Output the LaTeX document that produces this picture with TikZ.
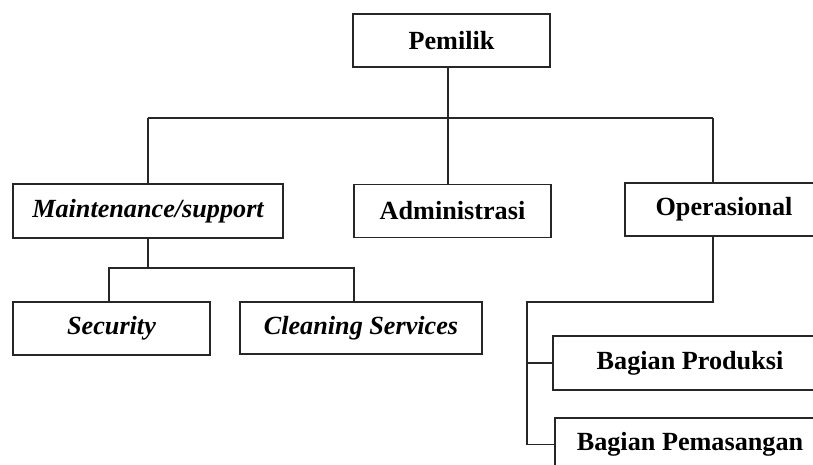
\documentclass[tikz,border=0pt]{standalone}
\usepackage{fontspec}
\setmainfont{Liberation Serif}
\begin{document}
\begin{tikzpicture}[x=1pt,y=-1pt,
  box/.style={draw=black!85, line width=1.8pt, inner sep=0pt, font=\fontsize{26.2}{30}\selectfont\bfseries},
  it/.style={font=\fontsize{26.2}{30}\selectfont\bfseries\itshape},
  conn/.style={draw=black!85, line width=1.8pt}]
\useasboundingbox (0,0) rectangle (813,465);
\clip (0,0) rectangle (813,465);
\fill[white] (0,0) rectangle (813,465);
\node[box, minimum width=197pt, minimum height=53pt] (pem) at (451.5,40.5) {Pemilik};
\node[box, it, minimum width=270pt, minimum height=54pt] (maint) at (148,211) {Maintenance/support};
\node[box, minimum width=197pt, minimum height=53pt] (adm) at (452.5,211) {Administrasi};
\node[box, minimum width=198pt, minimum height=53pt] (op) at (724,209.5) {Operasional};
\node[box, it, minimum width=197pt, minimum height=53pt] (sec) at (111.5,328.5) {Security};
\node[box, it, minimum width=242pt, minimum height=52pt] (clean) at (361,328) {Cleaning Services};
\node[box, minimum width=274pt, minimum height=54pt] (prod) at (690,363) {Bagian Produksi};
\node[box, minimum width=270pt, minimum height=53pt] (pemas) at (690,444.5) {Bagian Pemasangan};
% top-level bus
\coordinate (pj) at (448,118);
\coordinate (mj) at (150,118);
\coordinate (oj) at (713,118);
\draw[conn] (pem.south -| pj) -- (pj);
\draw[conn] (mj -| maint.north) -- (oj);
\draw[conn] (mj -| maint.north) -- (maint.north);
\draw[conn] (pj) -- (pj |- adm.north);
\draw[conn] (oj) -- (oj |- op.north);
% maintenance bus
\coordinate (sj) at (109,268);
\coordinate (cj) at (354,268);
\draw[conn] (maint.south) -- (maint.south |- sj);
\draw[conn] (sec.north -| sj) -- (sj) -- (cj) -- (cj |- clean.north);
% operasional bus
\coordinate (oa) at (713,302);
\coordinate (ob) at (527,302);
\draw[conn] (op.south -| oa) -- (oa) -- (ob) -- (ob |- pemas.west) -- (pemas.west);
\draw[conn] (ob |- prod.west) -- (prod.west);
\end{tikzpicture}
\end{document}
